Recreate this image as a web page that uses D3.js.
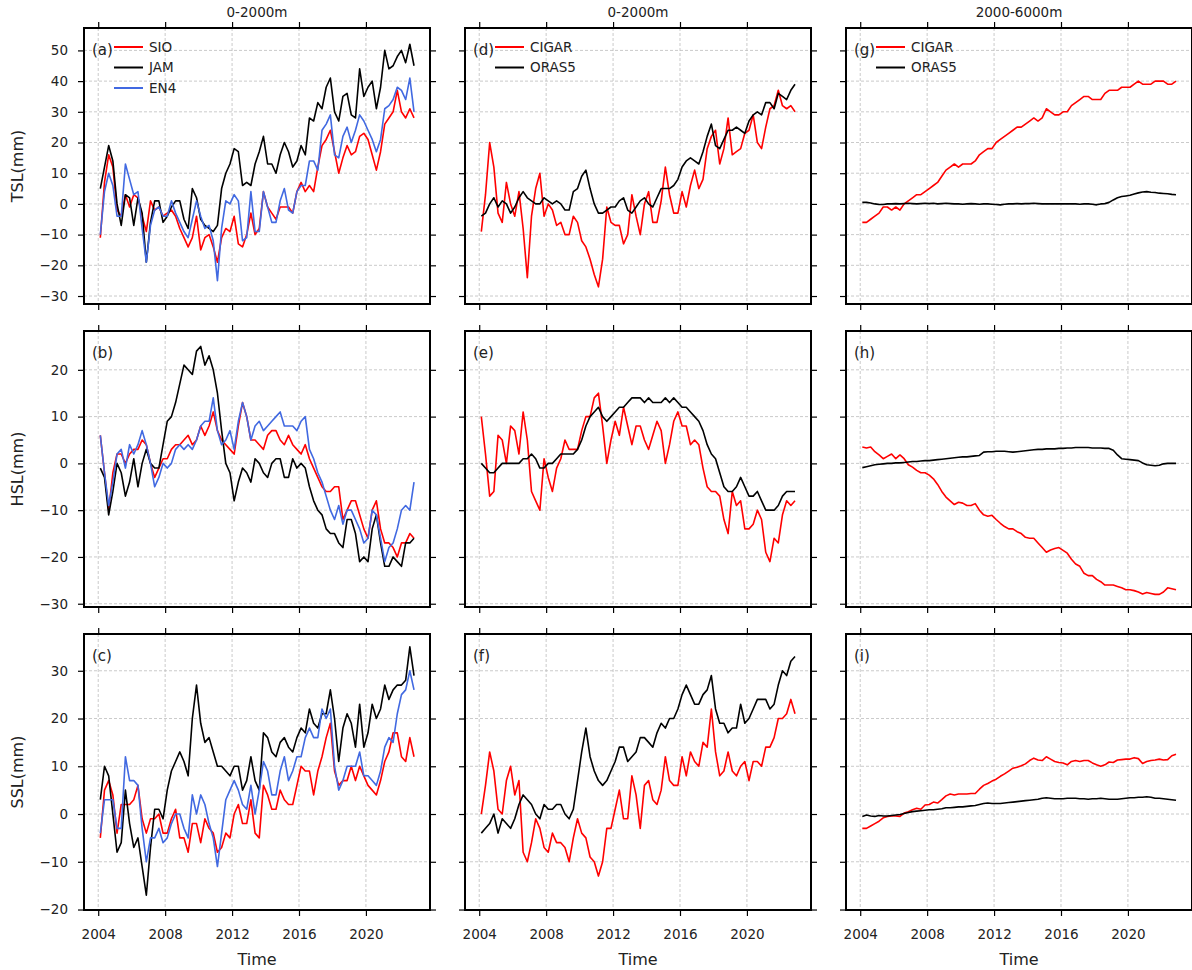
<!DOCTYPE html>
<html>
<head>
<meta charset="utf-8">
<script src="https://cdn.jsdelivr.net/npm/d3@7"></script>
<style>
  body { margin: 0; background: #fff; }
  svg { display: block; font-family: "DejaVu Sans", sans-serif; }
</style>
</head>
<body>
<svg id="chart" width="1192" height="970"></svg>
<script>
// quarterly samples from 2004.125 to 2022.875
var startYear = 2004.125;
var stepYear = 0.25;

var yearTicks = [2004, 2008, 2012, 2016, 2020];
var colTitles = ["0-2000m", "0-2000m", "2000-6000m"];
var rowLabels = ["TSL(mm)", "HSL(mm)", "SSL(mm)"];
var rowTicks = [
    [-30, -20, -10, 0, 10, 20, 30, 40, 50],
    [-30, -20, -10, 0, 10, 20],
    [-20, -10, 0, 10, 20, 30]
];
var rowDomains = [[-32.6, 57.3], [-30.7, 28.3], [-20.1, 37.7]];

// (a) TSL 0-2000m
var tslSIO = [-11,7,16,12,-2,-4,3,-1,3,2,-4,-9,1,-2,-1,-4,-3,-2,-4,-8,-11,-14,-11,-4,-15,-11,-10,-14,-19,-11,-8,-9,-4,-13,-14,-10,-3,-10,-8,4,-1,-3,-5,-1,-1,-1,-3,4,7,4,6,4,12,19,21,24,17,10,15,19,16,17,22,23,21,16,11,17,26,28,30,37,30,28,31,28];
var tslJAM = [5,12,19,14,0,-7,3,2,-7,2,-3,-19,-6,1,1,-6,-4,-1,1,1,-5,-8,5,2,-5,-7,-8,-9,-7,5,10,13,18,17,6,7,6,13,17,22,13,13,10,16,20,17,12,14,19,16,28,27,33,31,38,41,30,27,35,36,29,28,44,35,38,40,31,38,50,44,45,48,50,46,52,45];
var tslEN4 = [-10,4,10,6,-4,-4,13,8,3,4,-8,-19,-7,-2,-1,-4,-4,1,-3,-6,-9,-11,-5,1,-4,-8,-7,-12,-25,-8,1,0,3,1,-12,-11,4,-9,-9,4,-1,-6,-6,1,5,-2,-3,4,6,6,14,14,11,24,26,29,16,15,22,25,20,24,29,27,24,21,17,21,31,32,34,38,37,34,41,30];

// (b) HSL 0-2000m
var hslSIO = [6,-2,-10,-2,2,2,0,2,3,3,5,4,0,-3,-1,1,1,3,4,4,5,6,4,5,8,6,8,11,7,5,4,3,2,8,13,10,5,5,4,3,6,7,7,5,4,6,4,3,2,4,1,-1,-3,-5,-6,-6,-5,-5,-12,-10,-8,-8,-11,-14,-16,-10,-8,-14,-17,-17,-18,-20,-17,-17,-15,-16];
var hslJAM = [-1,-3,-11,-6,0,-2,-7,-4,1,-5,0,3,0,-1,-1,4,9,10,13,17,21,20,19,24,25,21,23,20,15,7,0,-2,-8,-4,-1,-2,-4,1,0,-2,-3,0,1,1,-3,-3,1,-1,0,-1,-5,-8,-10,-11,-14,-15,-15,-17,-18,-12,-12,-15,-21,-20,-21,-14,-11,-17,-22,-22,-20,-21,-22,-17,-17,-16];
var hslEN4 = [6,-2,-9,-4,2,3,-1,4,2,4,7,4,0,-5,-3,0,-1,0,3,4,3,4,3,5,8,9,9,14,7,4,5,7,3,9,13,10,5,8,9,7,8,9,10,11,8,8,8,7,9,10,3,1,-2,-4,-7,-10,-12,-9,-13,-10,-10,-12,-14,-17,-16,-10,-11,-16,-21,-18,-17,-14,-10,-9,-10,-4];

// (c) SSL 0-2000m
var sslSIO = [-5,5,7,4,-4,2,2,2,3,6,-1,-4,-1,-1,0,-4,-4,-1,1,-5,-5,-8,-2,-2,-6,-1,-3,-4,-8,-7,-4,-5,0,2,-2,-2,3,-4,-5,6,4,1,1,5,3,2,2,6,10,9,9,4,9,12,16,19,9,6,7,7,10,7,10,8,6,5,4,7,11,13,17,17,12,11,16,12];
var sslJAM = [3,10,8,0,-8,-6,5,-2,-7,-5,-11,-17,-7,1,1,-1,5,9,11,13,11,8,20,27,19,15,16,13,10,10,9,8,10,10,5,7,12,7,5,17,16,13,12,15,16,14,13,16,18,17,22,19,18,21,21,26,20,11,18,21,19,14,23,14,17,23,20,22,27,24,26,27,27,28,35,29];
var sslEN4 = [-4,3,3,3,-3,-3,12,7,7,6,-3,-10,-5,-5,-3,-6,-5,-2,0,0,-3,-5,4,0,4,2,-2,-5,-11,-4,3,5,7,5,2,1,6,0,5,11,9,4,4,9,12,7,9,12,12,16,18,16,16,22,20,22,10,5,7,10,10,10,13,8,8,7,6,9,14,16,15,21,25,26,30,26];

// (d) TSL 0-2000m
var tslCIGAR = [-9,3,20,12,-3,-6,7,0,-4,4,-8,-24,-4,5,10,-4,0,-2,-7,-6,-10,-10,-4,-6,-12,-14,-18,-23,-27,-18,-1,-6,-7,-7,-13,-10,3,-4,-10,0,4,-6,-6,1,12,3,-3,-3,4,-1,6,11,5,8,18,22,24,13,18,28,16,17,18,23,24,29,20,18,25,31,32,37,32,31,32,30];
var tslORAS5 = [-4,-3,0,2,-1,1,0,-3,-1,2,4,2,1,0,0,2,1,0,1,0,-2,-2,4,5,9,11,5,0,-3,-3,-2,-1,-1,1,2,-2,-3,-1,1,2,0,-1,2,5,5,5,6,8,12,14,15,14,13,17,22,26,19,18,21,24,24,25,24,23,27,29,30,29,33,33,31,36,35,34,37,39];

// (e) HSL 0-2000m
var hslCIGAR = [10,2,-7,-6,6,5,0,8,7,2,11,5,-6,-8,-10,1,-3,-6,-1,1,5,3,3,3,7,10,10,14,15,8,0,5,9,6,12,8,4,8,8,5,3,6,9,7,0,4,9,11,8,8,4,5,4,-1,-5,-6,-6,-7,-12,-15,-6,-9,-8,-14,-14,-13,-10,-12,-19,-21,-16,-17,-11,-8,-9,-8];
var hslORAS5 = [0,-1,-2,-2,-1,0,0,0,0,0,1,1,2,1,-1,-1,0,0,1,2,2,2,2,3,5,8,10,11,12,10,9,10,11,12,12,13,14,14,14,13,14,13,13,13,14,13,14,13,12,12,11,10,9,7,4,2,1,-2,-5,-6,-6,-5,-3,-5,-7,-7,-6,-8,-10,-10,-10,-9,-7,-6,-6,-6];

// (f) SSL 0-2000m
var sslCIGAR = [0,6,13,9,1,0,7,10,4,7,-8,-10,-6,-1,-3,-7,-8,-4,-6,-6,-7,-10,-5,-1,-4,-5,-9,-10,-13,-10,-3,-3,1,5,-1,-1,8,4,-3,6,7,3,2,5,12,7,6,6,12,8,13,11,10,15,14,22,13,8,9,13,9,8,10,11,7,11,11,10,14,14,16,20,20,21,24,21];
var sslORAS5 = [-4,-3,-2,0,-4,-1,-2,-3,-1,2,4,3,2,0,-1,2,1,1,2,2,0,-1,1,7,13,18,12,9,7,6,7,9,11,14,14,11,12,13,16,16,15,14,17,19,18,20,20,22,25,27,25,23,23,25,26,29,22,19,19,17,18,18,23,19,20,22,24,24,24,22,23,27,30,29,32,33];

// (g) TSL 2000-6000m
var tslCIGARdeep = [-6,-6,-5,-4,-3,-1,-1,-2,-1,-2,0,1,2,3,3,4,5,6,7,9,11,12,13,12,13,13,13,14,16,17,18,18,20,21,22,23,24,25,25,26,27,28,27,28,31,30,29,29,30,30,32,33,34,35,35,34,34,34,36,37,37,37,38,38,38,39,40,39,39,39,40,40,40,39,39,40];
var tslORAS5deep = [0.5,0.5,0.3,0,-0.2,-0.2,0,0,0.1,0,0.1,0.2,0.1,0,0.1,0.2,0.1,0.2,0,0.1,0.2,0.1,0,0,-0.1,0,0.1,0,-0.1,0,0,-0.1,-0.2,-0.3,-0.1,0,0,0.1,0,0.1,0.1,0.2,0.1,0,0,0,0,0,0,0,0,0,-0.1,0,0,-0.1,-0.3,0,0.1,0.5,1.3,2,2.4,2.6,2.8,3.2,3.6,3.9,4,3.8,3.7,3.5,3.4,3.3,3.1,3];

// (h) HSL 2000-6000m
var hslCIGARdeep = [3.5,3.3,3.5,2.5,1.8,1,1.5,2,1,1.8,1,-0.3,-0.8,-1.5,-2,-2,-2.5,-3.3,-4.5,-6,-7.2,-8,-8.8,-8.3,-8.5,-9,-9,-8.6,-10,-11,-11.3,-11.1,-12,-12.8,-13.5,-14,-14,-14.6,-15,-15.8,-16,-16,-17,-18,-19,-18.5,-18.2,-18,-18.6,-19.2,-20.5,-21.5,-22,-23.5,-24,-24,-24.8,-25.3,-26,-26,-26,-26.3,-26.6,-27,-27,-27.2,-27.5,-27.9,-27.6,-27.8,-28,-28,-27.5,-26.6,-26.8,-27];
var hslORAS5deep = [-0.9,-0.7,-0.5,-0.3,-0.2,-0.1,0,0,0.1,0.1,0.2,0.3,0.4,0.4,0.5,0.6,0.6,0.7,0.8,0.9,1,1.1,1.2,1.3,1.4,1.4,1.5,1.6,1.7,2.4,2.5,2.5,2.6,2.6,2.6,2.5,2.4,2.5,2.6,2.7,2.8,2.9,3,3,3.1,3.1,3.1,3.2,3.2,3.3,3.3,3.4,3.4,3.4,3.4,3.3,3.3,3.3,3.2,3.2,2.8,1.8,1,0.9,0.8,0.7,0.6,0.1,-0.3,-0.4,-0.5,-0.4,-0.1,0,0,0];

// (i) SSL 2000-6000m
var sslCIGARdeep = [-3,-3,-2.5,-2,-1.5,-0.8,-0.5,-0.4,-0.4,-0.5,0.2,0.5,0.9,1.2,1,1.9,2,2.5,2.3,3,3.8,4.2,4,4.2,4.2,4.2,4.3,4.3,5.2,6,6.4,6.9,7.3,7.9,8.4,9,9.6,9.8,10.1,10.5,11.2,11.7,11.3,11.2,12,11.5,11,10.8,10.7,10.3,11,11.2,11,11.2,11.2,10.7,10.3,10,10.3,10.9,10.8,11.3,11.4,11.5,11.5,11.8,11.6,10.6,11,11.2,11.3,11.5,11.3,11.4,12.2,12.5];
var sslORAS5deep = [-0.5,-0.2,-0.4,-0.5,-0.3,-0.4,-0.4,-0.3,-0.2,-0.1,0.1,0.3,0.5,0.6,0.7,0.8,0.9,0.9,1,1.1,1.3,1.3,1.4,1.5,1.5,1.6,1.7,1.8,2,2.2,2.3,2.2,2.2,2.2,2.3,2.4,2.5,2.6,2.7,2.8,2.9,3,3.1,3.3,3.4,3.3,3.2,3.2,3.2,3.3,3.3,3.3,3.2,3.2,3.1,3.2,3.2,3.3,3.2,3.1,3.1,3.1,3.2,3.3,3.4,3.4,3.5,3.5,3.6,3.5,3.3,3.3,3.2,3.1,3,2.9];

function init() {
    var colX = [84, 465, 846];
    var rowY = [28, 331, 634];
    var pw = 346;
    var ph = 276;

    var panels = [
        { tag: "(a)", row: 0, col: 0, legend: true,
          lines: [["SIO", "#ff0000", tslSIO], ["JAM", "#000000", tslJAM], ["EN4", "royalblue", tslEN4]] },
        { tag: "(b)", row: 1, col: 0,
          lines: [["SIO", "#ff0000", hslSIO], ["JAM", "#000000", hslJAM], ["EN4", "royalblue", hslEN4]] },
        { tag: "(c)", row: 2, col: 0,
          lines: [["SIO", "#ff0000", sslSIO], ["JAM", "#000000", sslJAM], ["EN4", "royalblue", sslEN4]] },
        { tag: "(d)", row: 0, col: 1, legend: true,
          lines: [["CIGAR", "#ff0000", tslCIGAR], ["ORAS5", "#000000", tslORAS5]] },
        { tag: "(e)", row: 1, col: 1,
          lines: [["CIGAR", "#ff0000", hslCIGAR], ["ORAS5", "#000000", hslORAS5]] },
        { tag: "(f)", row: 2, col: 1,
          lines: [["CIGAR", "#ff0000", sslCIGAR], ["ORAS5", "#000000", sslORAS5]] },
        { tag: "(g)", row: 0, col: 2, legend: true,
          lines: [["CIGAR", "#ff0000", tslCIGARdeep], ["ORAS5", "#000000", tslORAS5deep]] },
        { tag: "(h)", row: 1, col: 2,
          lines: [["CIGAR", "#ff0000", hslCIGARdeep], ["ORAS5", "#000000", hslORAS5deep]] },
        { tag: "(i)", row: 2, col: 2,
          lines: [["CIGAR", "#ff0000", sslCIGARdeep], ["ORAS5", "#000000", sslORAS5deep]] }
    ];

    var svg = d3.select("#chart");
    var font = "DejaVu Sans, sans-serif";

    var x = d3.scaleLinear().domain([2003.15, 2023.83]).range([0, pw]);

    panels.forEach(function (p) {
        var y = d3.scaleLinear().domain(rowDomains[p.row]).range([ph, 0]);
        var g = svg.append("g")
            .attr("transform", "translate(" + colX[p.col] + "," + rowY[p.row] + ")");

        // grid
        g.selectAll(".vgrid").data(yearTicks).enter().append("line")
            .attr("x1", d => x(d)).attr("x2", d => x(d))
            .attr("y1", 0).attr("y2", ph)
            .attr("stroke", "#bdbdbd").attr("stroke-width", 0.8)
            .attr("stroke-dasharray", "3,2");
        g.selectAll(".hgrid").data(rowTicks[p.row]).enter().append("line")
            .attr("x1", 0).attr("x2", pw)
            .attr("y1", d => y(d)).attr("y2", d => y(d))
            .attr("stroke", "#bdbdbd").attr("stroke-width", 0.8)
            .attr("stroke-dasharray", "3,2");

        // axes (ticks outward on all four sides)
        var bottom = d3.axisBottom(x).tickValues(yearTicks).tickSize(6).tickPadding(13)
            .tickFormat(p.row === 2 ? d3.format("d") : "");
        var top = d3.axisTop(x).tickValues(yearTicks).tickSize(6).tickFormat("");
        var left = d3.axisLeft(y).tickValues(rowTicks[p.row]).tickSize(6).tickPadding(10)
            .tickFormat(p.col === 0 ? (d => d < 0 ? "\u2212" + Math.abs(d) : d) : "");
        var right = d3.axisRight(y).tickValues(rowTicks[p.row]).tickSize(6).tickFormat("");

        [[bottom, "translate(0," + ph + ")"], [top, null], [left, null], [right, "translate(" + pw + ",0)"]]
            .forEach(function (a) {
                var ax = g.append("g").call(a[0]);
                if (a[1]) ax.attr("transform", a[1]);
                ax.select(".domain").remove();
                ax.selectAll("line").attr("stroke", "#000").attr("stroke-width", 1.2);
                ax.selectAll("text").attr("font-size", 13.5).attr("font-family", font).attr("fill", "#222");
            });

        // series
        var line = d3.line()
            .x((d, i) => x(startYear + i * stepYear))
            .y(d => y(d));
        p.lines.forEach(function (s) {
            g.append("path")
                .datum(s[2])
                .attr("d", line)
                .attr("fill", "none")
                .attr("stroke", s[1])
                .attr("stroke-width", 1.6)
                .attr("stroke-linejoin", "round");
        });

        // frame
        g.append("rect")
            .attr("width", pw).attr("height", ph)
            .attr("fill", "none").attr("stroke", "#000").attr("stroke-width", 2);

        // panel tag
        g.append("text")
            .attr("x", 8).attr("y", 27)
            .attr("font-size", 15).attr("font-family", font).attr("fill", "#222")
            .text(p.tag);

        // legend
        if (p.legend) {
            p.lines.forEach(function (s, i) {
                var ly = 19 + i * 20.5;
                g.append("line")
                    .attr("x1", 30).attr("x2", 59)
                    .attr("y1", ly).attr("y2", ly)
                    .attr("stroke", s[1]).attr("stroke-width", 2);
                g.append("text")
                    .attr("x", 65).attr("y", ly).attr("dy", "0.36em")
                    .attr("font-size", 13.5).attr("font-family", font).attr("fill", "#222")
                    .text(s[0]);
            });
        }
    });

    // column titles
    colTitles.forEach(function (t, i) {
        svg.append("text")
            .attr("x", colX[i] + pw / 2).attr("y", 17)
            .attr("text-anchor", "middle")
            .attr("font-size", 13.5).attr("font-family", font).attr("fill", "#222")
            .text(t);
        svg.append("text")
            .attr("x", colX[i] + pw / 2).attr("y", 965)
            .attr("text-anchor", "middle")
            .attr("font-size", 16).attr("font-family", font).attr("fill", "#222")
            .text("Time");
    });

    // row labels
    rowLabels.forEach(function (t, i) {
        svg.append("text")
            .attr("transform", "translate(23," + (rowY[i] + ph / 2) + ") rotate(-90)")
            .attr("text-anchor", "middle")
            .attr("font-size", 16).attr("font-family", font).attr("fill", "#222")
            .text(t);
    });
}

window.onload = init;
</script>
</body>
</html>
